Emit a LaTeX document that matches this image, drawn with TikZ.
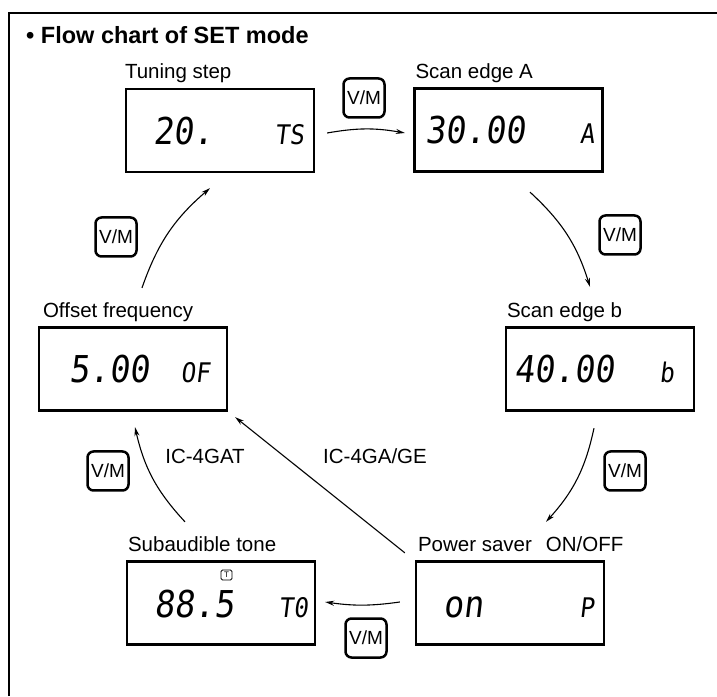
\documentclass[tikz,border=0pt]{standalone}
\usepackage{fontspec}
\setmainfont{Liberation Sans}
\newfontfamily\lcdfont[FakeStretch=0.9, FakeSlant=0.12]{DejaVu Sans Mono}
\usepackage{tikz}
\usetikzlibrary{calc, arrows.meta}

\begin{document}
\begin{tikzpicture}[x=1pt, y=1pt, >={Stealth[length=9pt, width=5pt]},
  lcdbox/.style={draw, line width=2.3pt, minimum width=188pt, minimum height=83pt, inner sep=0pt},
  boxlabel/.style={font=\fontsize{20.5}{24}\selectfont, inner sep=0pt, anchor=base west},
  digits/.style={font=\lcdfont\fontsize{37}{40}\selectfont, inner sep=0pt, anchor=base west},
  suffix/.style={font=\lcdfont\fontsize{27}{30}\selectfont, inner sep=0pt, anchor=base east},
  vmkey/.style={draw, line width=2.5pt, rounded corners=6pt, minimum width=41pt, minimum height=39pt, inner sep=0pt, font=\fontsize{19}{22}\selectfont},
  flow/.style={->, line width=1.1pt},
  model/.style={font=\fontsize{20.5}{24}\selectfont, inner sep=0pt}]
  \useasboundingbox (0,0) rectangle (717,696);

  % Frame and title
  \draw[line width=1.5pt] (9,0) -- (9,683) -- (717,683);
  \node[anchor=west, inner sep=0pt, font=\bfseries\fontsize{23.5}{28}\selectfont] (title) at (26,661) {\textbullet\ Flow chart of SET mode};

  % Displays
  \node[lcdbox] (ts) at (220,565.5) {};
  \node[lcdbox] (sa) at (508.5,566) {};
  \node[lcdbox] (of) at (133,327) {};
  \node[lcdbox] (sb) at (600,327) {};
  \node[lcdbox] (st) at (221,93) {};
  \node[lcdbox] (ps) at (510,93) {};

  \node[boxlabel] (tslabel) at ([shift={(0,9)}]ts.north west) {Tuning step};
  \node[boxlabel] (salabel) at ([shift={(2,9)}]sa.north west) {Scan edge A};
  \node[boxlabel] (oflabel) at ([shift={(5,9)}]of.north west) {Offset frequency};
  \node[boxlabel] (sblabel) at ([shift={(2,9)}]sb.north west) {Scan edge b};
  \node[boxlabel] (stlabel) at ([shift={(2,9)}]st.north west) {Subaudible tone};
  \node[boxlabel] (pslabel) at ([shift={(3,9)}]ps.north west) {Power saver\hspace{14pt}ON/OFF};

  % Readouts
  \node[digits] (tsval) at ([shift={(28,-14)}]ts.west) {20.};
  \node[suffix] (tstag) at ([shift={(-11,-14)}]ts.east) {TS};
  \node[digits] (saval) at ([shift={(12,-14)}]sa.west) {30.00};
  \node[suffix] (satag) at ([shift={(-9,-14)}]sa.east) {A};
  \node[digits] (ofval) at ([shift={(31,-14)}]of.west) {5.00};
  \node[suffix] (oftag) at ([shift={(-18,-14)}]of.east) {OF};
  \node[digits] (sbval) at ([shift={(9,-14)}]sb.west) {40.00};
  \node[suffix] (sbtag) at ([shift={(-21,-14)}]sb.east) {b};
  \node[digits] (stval) at ([shift={(28,-14)}]st.west) {88.5};
  \node[suffix] (sttag) at ([shift={(-8,-14)}]st.east) {T0};
  \node[draw, line width=0.8pt, rounded corners=1.5pt, minimum width=11pt, minimum height=10pt, inner sep=0pt, font=\fontsize{8}{8}\selectfont] (tonemark) at (226.5,121) {T};
  \node[digits] (psval) at ([shift={(28,-14)}]ps.west) {on};
  \node[suffix] (pstag) at ([shift={(-11,-14)}]ps.east) {P};

  % V/M keys
  \node[vmkey] (vm1) at (364,598) {V/M};
  \node[vmkey] (vm2) at (620,461) {V/M};
  \node[vmkey] (vm3) at (625,225) {V/M};
  \node[vmkey] (vm4) at (366,58) {V/M};
  \node[vmkey] (vm5) at (108,225) {V/M};
  \node[vmkey] (vm6) at (116,459) {V/M};

  % Transitions
  \draw[flow] ([shift={(12,-2.5)}]ts.east) to[bend left=10] ([shift={(-8.5,-3)}]sa.west);
  \draw[flow] ([shift={(21.5,-19.5)}]sa.south) to[bend left=15] ([shift={(-10,39.5)}]sb.north);
  \draw[flow] ([shift={(-6,-16.5)}]sb.south) to[bend left=15] ([shift={(36,38.5)}]ps.north);
  \draw[flow] ([shift={(-15,1)}]ps.west) to[bend left=8] ([shift={(9,1)}]st.east);
  \draw[flow] ([shift={(-36,38.5)}]st.north) to[bend left=15] ([shift={(2,-15.5)}]of.south);
  \draw[flow] ([shift={(9,38.5)}]of.north) to[bend left=15] ([shift={(-10,-15)}]ts.south);
  \draw[flow] ([shift={(-10,7.5)}]ps.north west) -- ([shift={(7,-5.5)}]of.south east);

  \node[model] (gat) at (205,240) {IC-4GAT};
  \node[model] (gage) at (375,240) {IC-4GA/GE};
\end{tikzpicture}
\end{document}
